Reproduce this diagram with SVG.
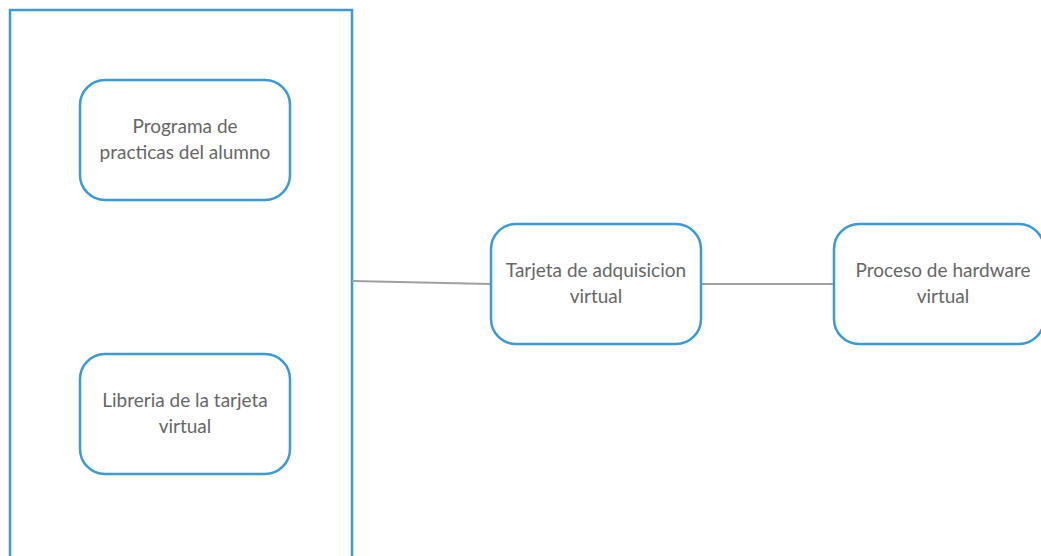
<svg xmlns="http://www.w3.org/2000/svg" width="1041" height="556" viewBox="0 0 1041 556">
<style>
.box{fill:#fff;stroke:#3a9ad9;stroke-width:2.5}
.c{stroke:#a0a0a0;stroke-width:2;fill:none}
text{font-family:Lato,"Liberation Sans",sans-serif;font-size:19px;fill:#666;text-anchor:middle}
</style>
<rect width="1041" height="556" fill="#fff"/>
<g id="container"><rect x="10" y="10" width="342" height="560" fill="#fff" stroke="#3a9ad9" stroke-width="2.5"/></g>
<g id="connectors">
<path class="c" d="M352 281 L491 284"/>
<path class="c" d="M701 284 L834 284"/>
</g>
<g id="n1"><rect class="box" x="80" y="80" width="210" height="120" rx="25"/>
<text x="185" y="133">Programa de</text><text x="185" y="159">practicas del alumno</text></g>
<g id="n2"><rect class="box" x="80" y="354" width="210" height="120" rx="25"/>
<text x="185" y="407">Libreria de la tarjeta</text><text x="185" y="433">virtual</text></g>
<g id="n3"><rect class="box" x="491" y="224" width="210" height="120" rx="25"/>
<text x="596" y="277">Tarjeta de adquisicion</text><text x="596" y="303">virtual</text></g>
<g id="n4"><rect class="box" x="834" y="224" width="210" height="120" rx="25"/>
<text x="943" y="277">Proceso de hardware</text><text x="943" y="303">virtual</text></g>
</svg>
